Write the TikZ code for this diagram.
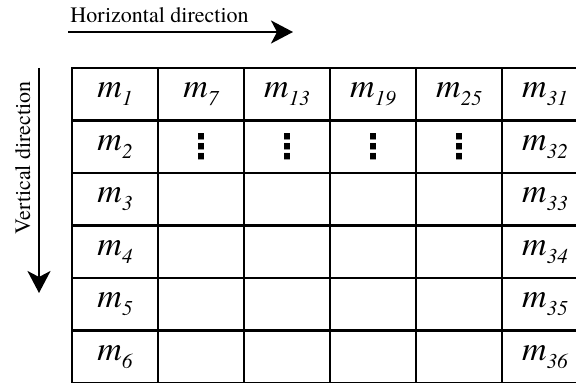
\documentclass[tikz,border=0pt]{standalone}
\usepackage{fontspec}
\setmainfont{texgyretermes}[
    Extension=.otf,
    UprightFont=*-regular,
    ItalicFont=*-italic,
    BoldFont=*-bold,
    BoldItalicFont=*-bolditalic
]
\newfontfamily\symfont{DejaVu Sans}
\usetikzlibrary{
    arrows.meta,
    positioning
}
% italic m with a lowered index
\newcommand{\msub}[1]{m\raisebox{-4pt}{\fontsize{10.5}{10.5}\selectfont #1}}
\tikzset{
    % --- Table cell (one element of the grid) ---
    cell/.style = {
        rectangle, draw, line width=1.35pt,
        minimum width=43pt, minimum height=26.25pt,
        inner sep=0pt, outer sep=0pt,
        font=\fontsize{17}{17}\selectfont\itshape
    },
    % --- Cell holding the continuation dots ---
    dots cell/.style = {
        cell, font=\fontsize{17}{17}\selectfont\bfseries\symfont
    },
    % --- Direction arrow ---
    dir arrow/.style = {
        -{Stealth[length=11pt, width=11.5pt, inset=3pt]},
        line width=1.15pt
    },
    % --- Direction label ---
    dir label/.style = {
        font=\fontsize{11}{13}\selectfont,
        inner sep=0pt
    }
}

\begin{document}
\begin{tikzpicture}[x=0.5pt, y=-0.5pt]

\clip (0,0) rectangle (576,383);

% ---------------------------------------------------------
% Grid: first and last column
% ---------------------------------------------------------
\foreach \r/\lo/\hi in {0/1/31, 1/2/32, 2/3/33, 3/4/34, 4/5/35, 5/6/36} {
    \node[cell] (c0-\r) at (115, {94.25+52.5*\r}) {\msub{\lo}};
    \node[cell] (c5-\r) at (545, {94.25+52.5*\r}) {\raisebox{-3pt}{\msub{\hi}}};
}

% ---------------------------------------------------------
% Grid: middle columns
% ---------------------------------------------------------
\foreach \c/\k in {1/7, 2/13, 3/19, 4/25} {
    \node[cell] (c\c-0) at ({115+86*\c}, 94.25) {\msub{\k}};
    \node[dots cell] (c\c-1) at ({115+86*\c}, 146.75) {⋮};
    \foreach \r in {2,...,5}
        \node[cell] (c\c-\r) at ({115+86*\c}, {94.25+52.5*\r}) {};
}

% ---------------------------------------------------------
% Horizontal direction (top)
% ---------------------------------------------------------
\coordinate (hStart) at (68, 32);
\coordinate (hEnd) at (293, 32);
\draw[dir arrow] (hStart) -- (hEnd);
\node[dir label, anchor=base west] (hLabel) at (70, 23) {Horizontal direction};

% ---------------------------------------------------------
% Vertical direction (left)
% ---------------------------------------------------------
\coordinate (vStart) at (39, 68);
\coordinate (vEnd) at (39, 293);
\draw[dir arrow] (vStart) -- (vEnd);
\node[dir label, rotate=90, anchor=base west] (vLabel) at (30, 235) {Vertical direction};

\end{tikzpicture}
\end{document}
